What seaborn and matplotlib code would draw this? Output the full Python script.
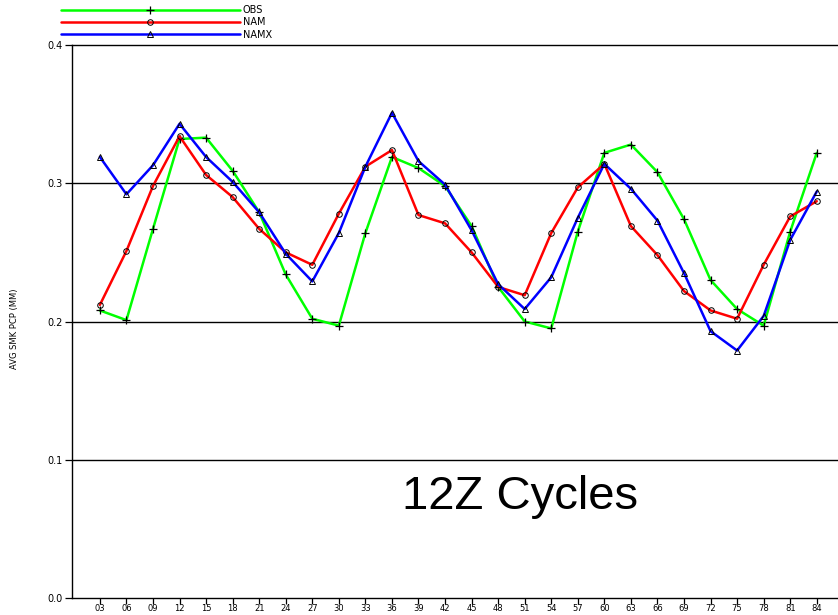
import matplotlib
matplotlib.use('Agg')
import matplotlib.pyplot as plt
import seaborn as sns

# forecast hours and average precip values
hours = [3, 6, 9, 12, 15, 18, 21, 24, 27, 30, 33, 36, 39, 42,
         45, 48, 51, 54, 57, 60, 63, 66, 69, 72, 75, 78, 81, 84]
obs = [0.208, 0.201, 0.267, 0.332, 0.333, 0.309, 0.279, 0.234, 0.202, 0.197,
       0.264, 0.319, 0.311, 0.298, 0.269, 0.225, 0.200, 0.195, 0.265, 0.322,
       0.328, 0.308, 0.274, 0.230, 0.209, 0.197, 0.265, 0.322]
nam = [0.212, 0.251, 0.298, 0.334, 0.306, 0.290, 0.267, 0.250, 0.241, 0.278,
       0.312, 0.324, 0.277, 0.271, 0.250, 0.225, 0.219, 0.264, 0.297, 0.314,
       0.269, 0.248, 0.222, 0.208, 0.202, 0.241, 0.276, 0.287]
namx = [0.319, 0.292, 0.313, 0.343, 0.319, 0.301, 0.279, 0.249, 0.229, 0.264,
        0.312, 0.351, 0.316, 0.299, 0.266, 0.227, 0.209, 0.232, 0.275, 0.314,
        0.296, 0.273, 0.235, 0.193, 0.179, 0.204, 0.259, 0.294]

sns.set_style('white')
plt.rcParams['font.family'] = ['DejaVu Sans']
plt.rcParams['text.color'] = 'black'

fig = plt.figure(figsize=(8.38, 6.15), dpi=100)
ax = fig.add_axes([72 / 838, 17 / 615, 766 / 838, 553 / 615])

sns.lineplot(x=hours, y=obs, ax=ax, color='#00ff00', linewidth=1.8, marker='+',
             markersize=6, markeredgecolor='black', markeredgewidth=0.9, label='OBS')
sns.lineplot(x=hours, y=nam, ax=ax, color='#ff0000', linewidth=1.8, marker='o',
             markersize=4, markerfacecolor='none', markeredgecolor='black',
             markeredgewidth=0.7, label='NAM')
sns.lineplot(x=hours, y=namx, ax=ax, color='#0000ff', linewidth=1.8, marker='^',
             markersize=4, markerfacecolor='none', markeredgecolor='black',
             markeredgewidth=0.7, label='NAMX')

ax.set_xlim(-0.15, 86.4)
ax.set_ylim(0, 0.4)
ax.set_xticks(hours)
ax.set_xticklabels([f'{h:02d}' for h in hours])
ax.set_yticks([0.0, 0.1, 0.2, 0.3, 0.4])
ax.set_yticklabels(['0.0', '0.1', '0.2', '0.3', '0.4'])
ax.tick_params(axis='both', direction='out', width=0.9, colors='black',
               bottom=True, left=True)
ax.tick_params(axis='x', length=4, pad=0.5, labelsize=6)
ax.tick_params(axis='y', length=5, pad=2, labelsize=7)

for v in [0.1, 0.2, 0.3]:
    ax.axhline(v, color='black', linewidth=1.0, zorder=1)

for side in ['left', 'bottom', 'top']:
    ax.spines[side].set_color('black')
    ax.spines[side].set_linewidth(1.0)
ax.spines['right'].set_visible(False)

ax.legend(loc='upper left', bbox_to_anchor=(61 / 838, 1 - 5 / 615),
          bbox_transform=fig.transFigure, frameon=False, fontsize=7,
          handlelength=18.4, handletextpad=0.3, labelspacing=0.25,
          borderpad=0, borderaxespad=0, numpoints=1)

fig.text(15 / 838, 1 - 329 / 615, 'AVG SMK PCP (MM)', rotation=90,
         ha='center', va='center', fontsize=6)

fig.text(520 / 838, 1 - 497 / 615, '12Z Cycles', ha='center', va='center',
         fontsize=34, color='black', family=['Liberation Sans', 'DejaVu Sans'])

fig.savefig('out.png', dpi=100)
